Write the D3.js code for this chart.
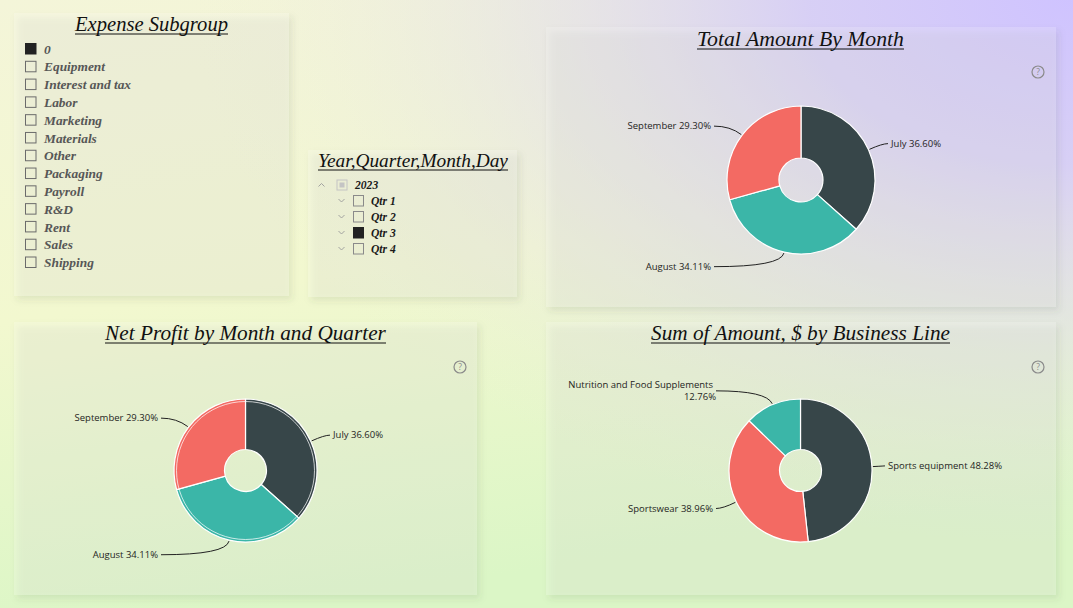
<!DOCTYPE html>
<html><head><meta charset="utf-8">
<script src="https://cdn.jsdelivr.net/npm/d3@7"></script>
<style>html,body{margin:0;padding:0;overflow:hidden;background:#eee}svg{display:block}</style>
</head><body>
<svg id="c" width="1073" height="608"></svg>
<script>
// ---------------- DATA ----------------
const months = ["July", "August", "September"];
const totalAmountPct = [36.60, 34.11, 29.30];
const netProfitPct = [36.60, 34.11, 29.30];
const businessLines = ["Sports equipment", "Sportswear", "Nutrition and Food Supplements"];
const businessLinePct = [48.28, 38.96, 12.76];
const expenseSubgroups = ["0", "Equipment", "Interest and tax", "Labor", "Marketing", "Materials", "Other", "Packaging", "Payroll", "R&D", "Rent", "Sales", "Shipping"];
const expenseSelected = ["0"];
const yearItems = ["2023"];
const quarters = ["Qtr 1", "Qtr 2", "Qtr 3", "Qtr 4"];
const quarterSelected = ["Qtr 3"];

// ---------------- STYLE ----------------
const COL = {dark: "#374649", teal: "#3bb6a8", coral: "#f36a63"};
const monthColor = d3.scaleOrdinal().domain(months).range([COL.dark, COL.teal, COL.coral]);
const lineColor = d3.scaleOrdinal().domain(businessLines).range([COL.dark, COL.coral, COL.teal]);
const TITLE_FONT = "'Liberation Serif', 'Times New Roman', serif";
const LABEL_FONT = "'Segoe UI', 'Open Sans', 'Noto Sans', sans-serif";

const svg = d3.select("#c");
const defs = svg.append("defs");

// background gradients
const lg = defs.append("linearGradient").attr("id", "bgv").attr("x1", 0).attr("y1", 0).attr("x2", 0.25).attr("y2", 1);
lg.append("stop").attr("offset", 0).attr("stop-color", "#f4f5d9");
lg.append("stop").attr("offset", 0.5).attr("stop-color", "#f2f8cf");
lg.append("stop").attr("offset", 1).attr("stop-color", "#dbf6c6");
const rg = defs.append("radialGradient").attr("id", "bgr").attr("gradientUnits", "userSpaceOnUse")
  .attr("cx", 1073).attr("cy", 0).attr("r", 880).attr("gradientTransform", "translate(1073,0) scale(1,0.62) translate(-1073,0)");
rg.append("stop").attr("offset", 0).attr("stop-color", "#cfc3ff").attr("stop-opacity", 1);
rg.append("stop").attr("offset", 0.3).attr("stop-color", "#d5ccf8").attr("stop-opacity", 0.92);
rg.append("stop").attr("offset", 0.6).attr("stop-color", "#e0dbee").attr("stop-opacity", 0.55);
rg.append("stop").attr("offset", 1).attr("stop-color", "#eeeede").attr("stop-opacity", 0);

const flt = defs.append("filter").attr("id", "sh").attr("x", "-10%").attr("y", "-10%").attr("width", "130%").attr("height", "130%");
flt.append("feDropShadow").attr("dx", 3).attr("dy", 4).attr("stdDeviation", 3)
  .attr("flood-color", "#44523c").attr("flood-opacity", 0.65);

svg.append("rect").attr("width", 1073).attr("height", 608).attr("fill", "url(#bgv)");
svg.append("rect").attr("width", 1073).attr("height", 608).attr("fill", "url(#bgr)");

// panels
const panels = {
  expense: {x: 14, y: 13, w: 275, h: 283},
  year: {x: 308, y: 150, w: 209, h: 147},
  total: {x: 546, y: 27, w: 510, h: 280},
  net: {x: 14, y: 322, w: 463, h: 273},
  line: {x: 546, y: 322, w: 510, h: 273}
};
Object.values(panels).forEach(p => {
  svg.append("rect").attr("x", p.x).attr("y", p.y).attr("width", p.w).attr("height", p.h)
    .attr("fill", "rgba(255,255,255,0.16)").attr("filter", "url(#sh)");
});

function title(cx, baseline, text, targetW, color) {
  const t = svg.append("text").attr("x", cx).attr("y", baseline).attr("text-anchor", "middle")
    .attr("font-family", TITLE_FONT).attr("font-style", "italic").attr("font-size", 22)
    .attr("fill", color || "#111").text(text);
  const len = t.node().getComputedTextLength();
  const fs = 22 * targetW / len;
  t.attr("font-size", fs);
  svg.append("line").attr("x1", cx - targetW / 2).attr("x2", cx + targetW / 2)
    .attr("y1", baseline + 3).attr("y2", baseline + 3).attr("stroke", color || "#111").attr("stroke-width", 1);
}

function helpIcon(x, y) {
  const g = svg.append("g").attr("transform", `translate(${x},${y})`);
  g.append("circle").attr("r", 6).attr("fill", "none").attr("stroke", "#8a8a8a").attr("stroke-width", 1.2);
  g.append("text").attr("y", 3).attr("text-anchor", "middle").attr("font-family", LABEL_FONT)
    .attr("font-size", 8.5).attr("fill", "#8a8a8a").text("?");
}

function donut(opts) {
  const {cx, cy, r, ri, names, values, color, panel, ring} = opts;
  const g = svg.append("g").attr("transform", `translate(${cx},${cy})`);
  const data = names.map((n, i) => ({name: n, v: values[i]}));
  const pie = d3.pie().sort(null).value(d => d.v);
  const arcs = pie(data);
  const arc = d3.arc().innerRadius(ri).outerRadius(r);
  g.selectAll("path.s").data(arcs).join("path").attr("class", "s")
    .attr("d", arc).attr("fill", d => color(d.data.name))
    .attr("stroke", "#fff").attr("stroke-width", 1.2).attr("stroke-linejoin", "round");
  if (ring) {
    g.append("circle").attr("r", r - 2.5).attr("fill", "none").attr("stroke", "#fff").attr("stroke-width", 0.8).attr("opacity", 0.9);
  }
  const R = r + 15, dx = r + 15;
  arcs.forEach(a => {
    const m = (a.startAngle + a.endAngle) / 2;
    const px = Math.sin(m) * (r + 1), py = -Math.cos(m) * (r + 1);
    const ly = -Math.cos(m) * R;
    const right = Math.sin(m) >= 0;
    const lx = right ? dx : -dx;
    const qx = Math.sin(m) * R;
    g.append("path").attr("d", `M${px},${py} Q${qx},${ly} ${lx + (right ? -2 : 2)},${ly}`)
      .attr("fill", "none").attr("stroke", "#222").attr("stroke-width", 1);
    const label = `${a.data.name} ${d3.format(".2f")(a.data.v)}%`;
    const t = g.append("text").attr("x", right ? lx + 1 : lx - 1).attr("y", ly)
      .attr("text-anchor", right ? "start" : "end").attr("font-family", LABEL_FONT)
      .attr("font-size", 9.5).attr("fill", "#1f1e1d");
    t.append("tspan").attr("x", right ? lx + 1 : lx - 1).attr("dy", "0.35em").text(label);
    const avail = right ? (panel.x + panel.w - (cx + lx) - 10) : ((cx + lx) - panel.x - 10);
    if (t.node().getComputedTextLength() > avail) {
      t.text(null);
      t.append("tspan").attr("x", right ? lx + 1 : lx - 1).attr("dy", "-0.25em").text(a.data.name);
      t.append("tspan").attr("x", right ? lx + 3 : lx + 2).attr("dy", "1.2em").text(d3.format(".2f")(a.data.v) + "%");
    }
  });
}

// ---------------- Expense Subgroup slicer ----------------
title(151.5, 31, "Expense Subgroup", 153);
const ey = d3.scalePoint().domain(expenseSubgroups).range([49, 262.5]);
const eg = svg.append("g");
expenseSubgroups.forEach(s => {
  const sel = expenseSelected.includes(s);
  eg.append("rect").attr("x", 25.5).attr("y", ey(s) - 5.5).attr("width", 10.5).attr("height", 10.5)
    .attr("fill", sel ? "#222" : "none").attr("stroke", sel ? "#222" : "#6b6b6b").attr("stroke-width", 1);
  eg.append("text").attr("x", 44).attr("y", ey(s)).attr("dy", "0.35em")
    .attr("font-family", TITLE_FONT).attr("font-style", "italic").attr("font-weight", "bold")
    .attr("font-size", 13.4).attr("fill", "#575757").text(s);
});

// ---------------- Year/Quarter hierarchy slicer ----------------
title(413, 167, "Year,Quarter,Month,Day", 190);
const yg = svg.append("g");
const yRow = d3.scalePoint().domain([...yearItems, ...quarters]).range([185, 249]);
yearItems.forEach(y => {
  const yy = yRow(y);
  yg.append("path").attr("d", `M${318.5},${yy + 1.5} L${321.5},${yy - 1.5} L${324.5},${yy + 1.5}`)
    .attr("fill", "none").attr("stroke", "#9a9a9a").attr("stroke-width", 0.9);
  yg.append("rect").attr("x", 337).attr("y", yy - 5).attr("width", 10).attr("height", 10)
    .attr("fill", "none").attr("stroke", "#c4c4c4").attr("stroke-width", 1);
  yg.append("rect").attr("x", 339.5).attr("y", yy - 2.5).attr("width", 5).attr("height", 5).attr("fill", "#c4c4c4");
  yg.append("text").attr("x", 355).attr("y", yy).attr("dy", "0.35em")
    .attr("font-family", TITLE_FONT).attr("font-style", "italic").attr("font-weight", "bold")
    .attr("font-size", 11.6).attr("fill", "#1a1a1a").text(y);
});
quarters.forEach(q => {
  const yy = yRow(q);
  const sel = quarterSelected.includes(q);
  yg.append("path").attr("d", `M${338.5},${yy - 2} L${341.5},${yy + 1} L${344.5},${yy - 2}`)
    .attr("fill", "none").attr("stroke", "#9a9a9a").attr("stroke-width", 0.9);
  yg.append("rect").attr("x", 353.5).attr("y", yy - 5.5).attr("width", 10).attr("height", 10.5)
    .attr("fill", sel ? "#222" : "none").attr("stroke", sel ? "#222" : "#8a8a8a").attr("stroke-width", 1);
  yg.append("text").attr("x", 371).attr("y", yy).attr("dy", "0.35em")
    .attr("font-family", TITLE_FONT).attr("font-style", "italic").attr("font-weight", "bold")
    .attr("font-size", 11.6).attr("fill", "#1a1a1a").text(q);
});

// ---------------- Donuts ----------------
title(800.5, 46, "Total Amount By Month", 207);
helpIcon(1038, 72);
donut({cx: 801, cy: 180, r: 74, ri: 22, names: months, values: totalAmountPct, color: monthColor, panel: panels.total});

title(245.5, 340, "Net Profit by Month and Quarter", 281);
helpIcon(460, 367);
donut({cx: 245.5, cy: 470.5, r: 71.5, ri: 21, names: months, values: netProfitPct, color: monthColor, panel: panels.net, ring: true});

title(800.5, 340, "Sum of Amount, $ by Business Line", 299);
helpIcon(1038, 367);
donut({cx: 800.5, cy: 470.5, r: 71.5, ri: 21, names: businessLines, values: businessLinePct, color: lineColor, panel: panels.line});
</script>
</body></html>
